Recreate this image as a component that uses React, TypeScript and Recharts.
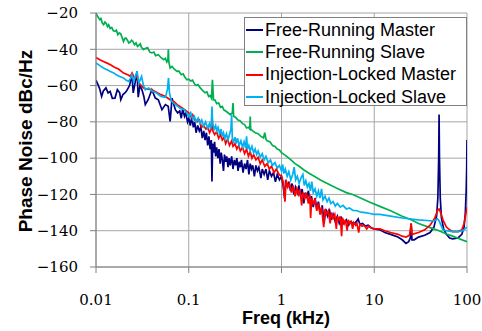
import { CartesianGrid, Line, LineChart, XAxis, YAxis } from "recharts";

type Pt = [number, number]; // [kHz, dBc/Hz]

const FREQ_TICKS = [0.01, 0.1, 1, 10, 100];
const DB_TICKS = [-160, -140, -120, -100, -80, -60, -40, -20];

const freeRunningMaster: Pt[] = [
  [0.01, -57], [0.0105, -59.5], [0.011, -62], [0.0115, -66], [0.012, -63], [0.0128, -61.3], [0.0135, -64],
  [0.0142, -63.2], [0.015, -67], [0.016, -66.9], [0.017, -62.3], [0.018, -64], [0.0185, -67.8], [0.0195, -65],
  [0.0205, -64.1], [0.0215, -62.7], [0.023, -60], [0.0244, -54], [0.0252, -64], [0.0265, -58], [0.0277, -52.2],
  [0.0285, -66.4], [0.0298, -60], [0.0313, -62.3], [0.0328, -66], [0.034, -70.5], [0.0365, -67.8], [0.04, -62.3],
  [0.0436, -66.9], [0.047, -67.8], [0.0514, -73.3], [0.056, -70.5], [0.06, -71.4], [0.063, -79.7], [0.066, -67],
  [0.0717, -73.3], [0.076, -75.1], [0.08, -74], [0.083, -78], [0.086, -73], [0.09, -77], [0.093, -75],
  [0.097, -80], [0.1, -78], [0.104, -82], [0.108, -77], [0.112, -83], [0.116, -80], [0.12, -86], [0.125, -82],
  [0.13, -85], [0.135, -83], [0.14, -89], [0.145, -85], [0.15, -90], [0.155, -86], [0.16, -93], [0.165, -88],
  [0.17, -95], [0.175, -90], [0.178, -112.8], [0.181, -92], [0.186, -97], [0.19, -91], [0.195, -99], [0.2, -94],
  [0.206, -100], [0.212, -95], [0.218, -103], [0.224, -97], [0.23, -101], [0.237, -107], [0.243, -98],
  [0.25, -102], [0.257, -99], [0.265, -105], [0.272, -100], [0.28, -104], [0.29, -99], [0.3, -106], [0.31, -101],
  [0.32, -104], [0.33, -100], [0.34, -107], [0.35, -102], [0.36, -105], [0.37, -101], [0.385, -108], [0.4, -103],
  [0.415, -106], [0.43, -101], [0.445, -109], [0.46, -103], [0.475, -106], [0.49, -104], [0.51, -110],
  [0.53, -104], [0.55, -107], [0.57, -105], [0.6, -111], [0.62, -106], [0.65, -109], [0.68, -106], [0.71, -112],
  [0.74, -107], [0.78, -110], [0.82, -108], [0.86, -113], [0.9, -109], [0.95, -112], [1, -110], [1.04, -115],
  [1.08, -122], [1.11, -112], [1.15, -116], [1.2, -113], [1.25, -118], [1.3, -114], [1.36, -120], [1.42, -116],
  [1.48, -119], [1.54, -115], [1.6, -121], [1.67, -117], [1.74, -125], [1.8, -119], [1.87, -122], [1.95, -118],
  [2.03, -124], [2.1, -121], [2.2, -127], [2.3, -122], [2.4, -128], [2.5, -124], [2.62, -131], [2.75, -126],
  [2.88, -136], [3, -128], [3.15, -132], [3.3, -129], [3.45, -134], [3.6, -131], [3.8, -135], [4, -132],
  [4.2, -136], [4.45, -133], [4.7, -136], [5, -134], [5.3, -137], [5.6, -135], [6, -136.5], [6.4, -135],
  [6.7, -133.5], [7, -136.5], [7.5, -136], [8, -137.5], [8.6, -137], [9.3, -138.5], [10, -139], [11.5, -139.5],
  [13, -141], [15, -142], [18, -143.5], [20, -145], [22, -147], [23.5, -146], [24.5, -144], [25, -136],
  [25.5, -145], [27, -145], [30, -143.5], [35, -142.5], [40, -141], [44, -138], [47, -132], [48.5, -122],
  [49.5, -100], [50, -76], [50.5, -100], [51.5, -122], [53, -133], [56, -139], [60, -142], [65, -144],
  [70, -144.5], [80, -144], [88, -142], [93, -138], [96, -130], [98, -118], [99.3, -105], [100, -90],
];

const freeRunningSlave: Pt[] = [
  [0.01, -20], [0.0103, -21.5], [0.0106, -22.5], [0.011, -23.7], [0.0113, -23], [0.0117, -25.5], [0.0121, -26.4],
  [0.0125, -25], [0.0129, -25.8], [0.0133, -27.5], [0.0137, -26.5], [0.0142, -28.5], [0.0148, -28],
  [0.0154, -29.8], [0.016, -30.1], [0.0166, -29.5], [0.0172, -32], [0.0178, -31], [0.0185, -31.5],
  [0.0191, -33.5], [0.0198, -35.7], [0.0204, -34], [0.021, -33.8], [0.0218, -35], [0.0226, -36.5],
  [0.0234, -36], [0.0242, -35], [0.025, -35.7], [0.026, -37.5], [0.027, -36.5], [0.028, -38.4], [0.029, -37.8],
  [0.03, -37], [0.031, -39], [0.0326, -40.2], [0.034, -39.5], [0.036, -39], [0.038, -41.5], [0.04, -42],
  [0.042, -41.5], [0.044, -43.5], [0.047, -43], [0.05, -44.5], [0.0535, -45.7], [0.056, -45], [0.058, -47],
  [0.0595, -46], [0.0603, -40], [0.061, -47], [0.063, -50.3], [0.066, -49.5], [0.07, -51], [0.0746, -52.2],
  [0.078, -52], [0.083, -54], [0.087, -53.5], [0.091, -55.5], [0.0955, -56.8], [0.1, -56.5], [0.105, -57.5],
  [0.11, -57], [0.115, -59], [0.12, -60], [0.126, -59.5], [0.133, -61.3], [0.14, -62.5], [0.15, -64],
  [0.157, -63.5], [0.164, -66], [0.17, -65.5], [0.176, -67], [0.18, -56.8], [0.185, -67.8], [0.192, -68],
  [0.2, -70], [0.21, -69.5], [0.22, -72], [0.23, -71.5], [0.24, -73.5], [0.25, -74], [0.265, -75], [0.28, -76],
  [0.295, -75], [0.3, -69.6], [0.305, -77], [0.32, -77.5], [0.34, -79], [0.36, -79.5], [0.38, -81],
  [0.4, -81.5], [0.42, -83.4], [0.44, -83], [0.455, -84], [0.46, -77], [0.465, -84], [0.49, -85], [0.52, -86],
  [0.56, -86.5], [0.6, -88], [0.64, -88.9], [0.66, -86], [0.68, -89.5], [0.7, -90.5], [0.75, -91], [0.8, -93],
  [0.85, -93.5], [0.9, -95], [0.95, -95.5], [1, -97], [1.1, -98.5], [1.2, -100], [1.3, -101.5], [1.4, -103],
  [1.55, -104.5], [1.73, -106.4], [2, -108.5], [2.3, -110.3], [2.6, -111.9], [3, -113.5], [3.4, -115],
  [3.9, -116.5], [5, -119], [5.95, -120.2], [7.5, -122.5], [9.1, -124.4], [11.5, -126.6], [15, -129],
  [20, -132], [25, -134], [30, -136], [40, -138.3], [50, -140], [60, -141.8], [70, -143], [80, -144.2],
  [90, -145.2], [100, -146],
];

const lockedMaster: Pt[] = [
  [0.01, -44.5], [0.011, -45.8], [0.012, -46.7], [0.013, -47.5], [0.0143, -48.5], [0.016, -50], [0.0175, -50.9],
  [0.0198, -53.1], [0.022, -54], [0.0234, -54.9], [0.0245, -53], [0.026, -56], [0.0277, -55], [0.029, -58.6],
  [0.0326, -61.3], [0.036, -62], [0.04, -62.3], [0.0454, -63.8], [0.05, -65], [0.056, -66], [0.063, -67.8],
  [0.07, -69], [0.075, -70.5], [0.085, -72.4], [0.1, -75], [0.105, -77], [0.11, -76], [0.116, -79],
  [0.123, -80], [0.13, -79], [0.137, -83], [0.145, -82], [0.153, -84], [0.16, -83], [0.168, -86], [0.175, -84],
  [0.178, -76], [0.182, -85], [0.19, -87], [0.2, -85.5], [0.21, -89], [0.22, -87], [0.23, -90], [0.24, -88.5],
  [0.25, -92], [0.262, -89.5], [0.275, -93], [0.29, -90.5], [0.3, -93.5], [0.315, -92], [0.33, -95],
  [0.345, -93], [0.36, -96], [0.38, -94], [0.4, -97.5], [0.42, -95], [0.44, -99], [0.46, -96.5], [0.48, -100],
  [0.5, -98], [0.53, -101], [0.56, -99.5], [0.59, -103], [0.62, -101], [0.66, -104.5], [0.7, -103],
  [0.74, -106], [0.78, -104.5], [0.83, -108], [0.88, -106], [0.94, -109], [1, -110], [1.04, -113],
  [1.09, -124], [1.12, -112], [1.17, -116], [1.22, -114], [1.28, -119], [1.34, -115], [1.4, -121],
  [1.46, -117], [1.52, -120], [1.58, -117], [1.65, -126], [1.7, -119], [1.78, -122], [1.85, -119],
  [1.95, -125], [2.02, -120], [2.06, -133], [2.12, -122], [2.2, -125], [2.3, -123], [2.4, -129], [2.5, -125],
  [2.6, -131], [2.7, -127], [2.85, -138], [2.95, -128], [3.05, -131], [3.2, -129], [3.35, -136], [3.45, -130],
  [3.6, -133], [3.75, -131], [3.9, -139], [4, -132], [4.15, -134], [4.3, -132], [4.45, -143], [4.55, -133],
  [4.75, -136], [4.9, -134], [5.1, -140], [5.25, -134], [5.45, -136], [5.65, -135], [5.85, -139], [6, -135.5],
  [6.3, -137], [6.5, -136], [6.8, -141], [7, -136.5], [7.4, -137.5], [7.8, -137], [8.3, -139], [8.7, -137.5],
  [9.3, -138.5], [10, -139], [11.5, -139], [13, -140], [15, -141], [18, -142], [20, -143], [22, -143.5],
  [24, -142.5], [25, -136], [25.6, -142], [30, -141], [35, -139.5], [40, -137], [45, -133], [48, -129],
  [50, -128], [52, -130], [55, -134], [60, -138], [65, -139.5], [70, -140.5], [80, -140.5], [88, -139.5],
  [93, -136], [97, -131], [100, -127],
];

const lockedSlave: Pt[] = [
  [0.01, -47.6], [0.011, -49], [0.012, -50.3], [0.0135, -51.5], [0.0143, -52.2], [0.0155, -53], [0.0165, -54],
  [0.018, -55], [0.0198, -55.8], [0.021, -57], [0.0225, -57.7], [0.0235, -56], [0.0244, -54], [0.0255, -58],
  [0.0265, -55], [0.0277, -52.2], [0.029, -58.6], [0.031, -55], [0.0325, -60], [0.034, -62.3], [0.037, -61.3],
  [0.0405, -63.2], [0.045, -64.1], [0.05, -66], [0.056, -66.5], [0.059, -62], [0.0605, -55.8], [0.062, -64],
  [0.065, -68.7], [0.072, -70.5], [0.08, -72.4], [0.09, -73.3], [0.1, -77], [0.105, -75], [0.11, -78.5],
  [0.115, -77], [0.12, -80], [0.126, -78], [0.132, -81], [0.138, -79], [0.145, -82.5], [0.152, -80],
  [0.16, -83.5], [0.167, -81], [0.172, -84], [0.176, -80], [0.178, -71.5], [0.181, -81], [0.188, -84],
  [0.195, -82], [0.2, -85], [0.207, -83], [0.215, -86.5], [0.223, -84], [0.23, -88], [0.237, -86], [0.245, -89],
  [0.255, -86.5], [0.265, -90], [0.275, -87], [0.285, -84], [0.29, -76], [0.295, -89], [0.305, -91],
  [0.315, -88.5], [0.325, -92], [0.335, -89], [0.35, -93], [0.365, -90.5], [0.38, -94], [0.395, -91],
  [0.41, -94.5], [0.42, -88], [0.43, -95], [0.445, -93], [0.46, -96], [0.48, -93.5], [0.5, -97], [0.52, -95],
  [0.54, -98], [0.56, -96], [0.59, -99.5], [0.62, -97.5], [0.65, -101], [0.68, -99], [0.72, -102.5],
  [0.76, -101], [0.8, -104], [0.85, -102.5], [0.9, -105.5], [0.95, -104], [1, -107], [1.03, -103.5],
  [1.06, -108.5], [1.1, -106], [1.15, -110], [1.2, -107.5], [1.26, -112], [1.32, -109], [1.37, -105],
  [1.42, -112], [1.48, -110], [1.55, -114], [1.62, -111], [1.7, -109], [1.76, -115], [1.83, -112.5],
  [1.9, -116], [1.98, -114], [2.05, -118], [2.12, -113], [2.2, -119], [2.3, -117], [2.4, -121], [2.5, -118],
  [2.6, -122], [2.7, -117], [2.8, -123], [2.95, -121], [3.1, -124], [3.25, -122], [3.4, -125], [3.6, -124],
  [3.8, -126.5], [4, -125], [4.3, -127], [4.6, -126], [5, -128], [5.4, -127.5], [5.9, -128.8], [6.5, -129],
  [7.2, -129.8], [8, -130], [9, -130.5], [10, -131], [11.5, -131], [15, -132], [20, -133], [30, -134],
  [40, -134.5], [45, -134.5], [48, -133.5], [50, -134.5], [52, -136.5], [55, -139.5], [60, -140],
  [70, -140.5], [80, -140.5], [90, -140], [95, -139], [100, -138],
];

const SERIES = [
  { name: "Free-Running Master", color: "#000080", points: freeRunningMaster },
  { name: "Free-Running Slave", color: "#00b050", points: freeRunningSlave },
  { name: "Injection-Locked Master", color: "#ff0000", points: lockedMaster },
  { name: "Injection-Locked Slave", color: "#00b0f0", points: lockedSlave },
];

const toRows = (pts: Pt[]) => pts.map(([f, db]) => ({ f, db }));
const fmtDb = (v: number) => (v < 0 ? `\u2212${Math.abs(v)}` : `${v}`);

const serif = '"DejaVu Serif", serif';
const sans = '"Liberation Sans", Arial, sans-serif';

// tick labels use a serif face, titles and legend a bold/regular sans
const css = `
  .tick-serif { font-family: ${serif}; font-size: 15px; fill: #000; }
`;

const XTick = ({ x, y, payload }: any) => (
  <text x={x} y={y} dy="0.71em" textAnchor="middle" className="tick-serif" fontFamily={serif}>
    {String(payload.value)}
  </text>
);

const YTick = ({ x, y, payload }: any) => (
  <text x={x} y={y} dy="0.35em" textAnchor="end" className="tick-serif" fontFamily={serif}>
    {fmtDb(payload.value)}
  </text>
);

export default function App() {
  return (
    <div style={{ position: "absolute", left: 0, top: 0, width: 482, height: 331, background: "#fff" }}>
      <style>{css}</style>
      <LineChart width={482} height={331} margin={{ top: 13, right: 15, bottom: 0, left: 0 }}>
        <CartesianGrid stroke="#a6a6a6" strokeWidth={1} />
        <XAxis
          type="number"
          dataKey="f"
          scale="log"
          domain={[0.01, 100]}
          ticks={FREQ_TICKS}
          allowDataOverflow
          height={64}
          stroke="#808080"
          tickSize={6}
          tickMargin={21}
          tick={<XTick />}
        />
        <YAxis
          type="number"
          domain={[-160, -20]}
          ticks={DB_TICKS}
          width={96}
          stroke="#808080"
          tickSize={6}
          tickMargin={12}
          tick={<YTick />}
        />
        {SERIES.map((s) => (
          <Line
            key={s.name}
            data={toRows(s.points)}
            dataKey="db"
            type="linear"
            stroke={s.color}
            strokeWidth={1.7}
            dot={false}
            isAnimationActive={false}
          />
        ))}
      </LineChart>

      <svg width={482} height={331} style={{ position: "absolute", left: 0, top: 0, pointerEvents: "none" }}>
        <text x={286} y={324} textAnchor="middle" style={{ fontFamily: sans, fontWeight: "bold", fontSize: 18 }}>
          Freq (kHz)
        </text>
        <text
          transform="translate(32,141) rotate(-90)"
          textAnchor="middle"
          style={{ fontFamily: sans, fontWeight: "bold", fontSize: 19 }}
        >
          Phase Noise dBc/Hz
        </text>
      </svg>

      <div
        style={{
          position: "absolute",
          left: 244,
          top: 17,
          width: 223,
          height: 89,
          boxSizing: "border-box",
          border: "1px solid #808080",
          background: "#fff",
          paddingTop: 1,
          fontFamily: sans,
          fontSize: 18,
        }}
      >
        {SERIES.map((s) => (
          <div key={s.name} style={{ display: "flex", alignItems: "center", height: 22.3, whiteSpace: "nowrap" }}>
            <span style={{ display: "inline-block", width: 17, height: 2, background: s.color, marginLeft: 1 }} />
            <span style={{ marginLeft: 2, color: "#000" }}>{s.name}</span>
          </div>
        ))}
      </div>
    </div>
  );
}
